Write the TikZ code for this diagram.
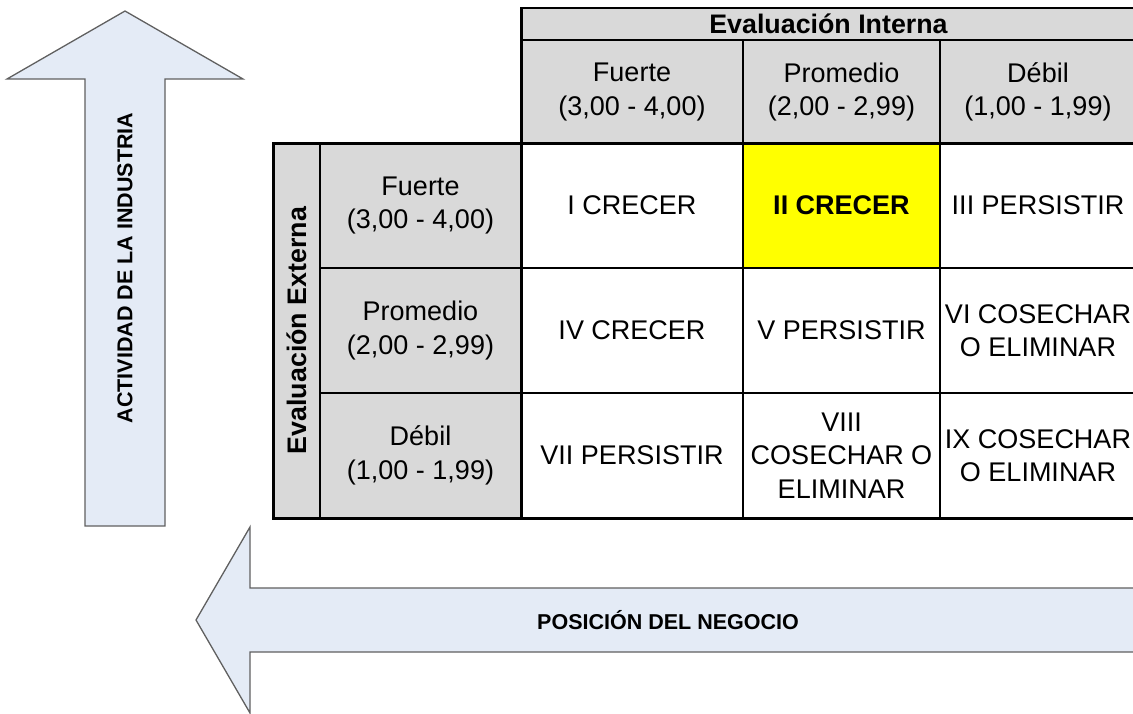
\documentclass[tikz,border=0pt]{standalone}
\usepackage{fontspec}
\setmainfont{Liberation Sans}
\definecolor{cellgrey}{HTML}{D9D9D9}
\definecolor{arrowfill}{HTML}{E4EBF6}
\definecolor{arrowline}{HTML}{606060}
\definecolor{hiyellow}{HTML}{FFFF00}
\begin{document}
\begin{tikzpicture}[x=1pt,y=-1pt,
  cell/.style={draw=black, line width=1.2pt, inner sep=0pt, align=center,
    font=\fontsize{27}{33.5}\selectfont},
  hdr/.style={cell, fill=cellgrey},
  dat/.style={cell, fill=white},
  thickrule/.style={draw=black, line width=3pt, line cap=rect, line join=miter},
  midrule/.style={draw=black, line width=2pt, line cap=rect},
  bigarrow/.style={draw=arrowline, fill=arrowfill, line width=1.3pt, line join=miter},
  arrowtext/.style={font=\fontsize{21.5}{25}\selectfont\bfseries}]
\useasboundingbox (0,0) rectangle (1133,713);
\clip (0,0) rectangle (1133,713);

% arrows
\draw[bigarrow] (125,11) -- (243,79) -- (165,79) -- (165,526) -- (85,526) -- (85,79) -- (7,79) -- cycle;
\node[arrowtext, rotate=90] (actind) at (125,268) {ACTIVIDAD DE LA INDUSTRIA};
\draw[bigarrow] (196,620) -- (250,527) -- (250,588) -- (1150,588) -- (1150,652) -- (250,652) -- (250,713) -- cycle;
\node[arrowtext] (posneg) at (668,620) {POSICIÓN DEL NEGOCIO};

% header
\node[hdr, minimum width=615pt, minimum height=32pt, font=\fontsize{26.8}{32}\selectfont\bfseries] (evint) at (828.5,24) {Evaluación Interna};
\node[hdr, minimum width=222pt, minimum height=103pt] (hF) at (632,92) {Fuerte\\(3,00 - 4,00)};
\node[hdr, minimum width=197pt, minimum height=103pt] (hP) at (841.5,92) {Promedio\\(2,00 - 2,99)};
\node[hdr, minimum width=196pt, minimum height=103pt] (hD) at (1038,92) {Débil\\(1,00 - 1,99)};

% row headers
\node[hdr, rotate=90, minimum width=375pt, minimum height=47pt, font=\fontsize{26.8}{32}\selectfont\bfseries] (evext) at (296.5,330.5) {Evaluación Externa};
\node[hdr, minimum width=201pt, minimum height=125pt] (rF) at (420.5,205.5) {Fuerte\\(3,00 - 4,00)};
\node[hdr, minimum width=201pt, minimum height=125pt] (rP) at (420.5,330.5) {Promedio\\(2,00 - 2,99)};
\node[hdr, minimum width=201pt, minimum height=125pt] (rD) at (420.5,455.5) {Débil\\(1,00 - 1,99)};

% data cells
\node[dat, minimum width=222pt, minimum height=125pt] (c1) at (632,205.5) {I CRECER};
\node[dat, fill=hiyellow, minimum width=197pt, minimum height=125pt, font=\fontsize{27}{32}\selectfont\bfseries] (c2) at (841.5,205.5) {II CRECER};
\node[dat, minimum width=196pt, minimum height=125pt] (c3) at (1038,205.5) {III PERSISTIR};
\node[dat, minimum width=222pt, minimum height=125pt] (c4) at (632,330.5) {IV CRECER};
\node[dat, minimum width=197pt, minimum height=125pt] (c5) at (841.5,330.5) {V PERSISTIR};
\node[dat, minimum width=196pt, minimum height=125pt] (c6) at (1038,330.5) {VI COSECHAR\\O ELIMINAR};
\node[dat, minimum width=222pt, minimum height=125pt] (c7) at (632,455.5) {VII PERSISTIR};
\node[dat, minimum width=197pt, minimum height=125pt, font=\fontsize{27}{33.5}\selectfont] (c8) at (841.5,455.5) {VIII\\COSECHAR O\\ELIMINAR};
\node[dat, minimum width=196pt, minimum height=125pt] (c9) at (1038,455.5) {IX COSECHAR\\O ELIMINAR};

% heavy rules
\draw[midrule] (521,8) -- (1140,8);
\draw[midrule] (521,40) -- (1140,40);
\draw[thickrule] (1140,518) -- (273,518) -- (273,143) -- (1140,143);
\draw[thickrule] (521,8) -- (521,518);
\end{tikzpicture}
\end{document}
